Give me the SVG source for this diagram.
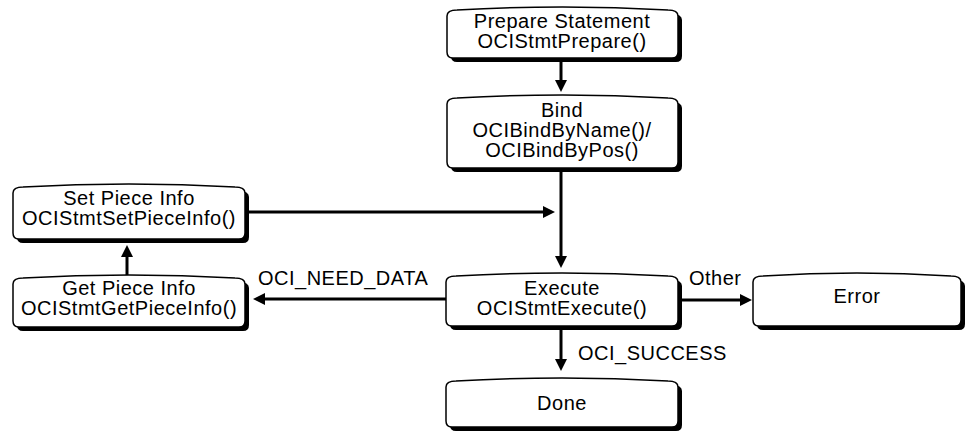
<svg xmlns="http://www.w3.org/2000/svg" width="967" height="433" viewBox="0 0 967 433">
<defs>
<style>
.shadow{fill:#000}
.box{fill:#fff;stroke:#000;stroke-width:1.5}
text{font-family:"Liberation Sans",Arial,sans-serif;font-size:20px;letter-spacing:0.5px;fill:#000}
.c{text-anchor:middle}
.conn{stroke:#000;stroke-width:3;fill:none}
</style>
<marker id="arr" viewBox="0 0 12 12" refX="4" refY="6" markerWidth="12" markerHeight="12" markerUnits="userSpaceOnUse" orient="auto">
<path d="M0,0 L12,6 L0,12 Z" fill="#000"/>
</marker>
</defs>
<rect width="967" height="433" fill="#fff"/>
<g id="connectors">
<line class="conn" x1="561" y1="62" x2="561" y2="84" marker-end="url(#arr)"/>
<line class="conn" x1="561" y1="172" x2="561" y2="260" marker-end="url(#arr)"/>
<line class="conn" x1="249" y1="212" x2="547" y2="212" marker-end="url(#arr)"/>
<line class="conn" x1="446" y1="299" x2="261" y2="299" marker-end="url(#arr)"/>
<line class="conn" x1="127" y1="278" x2="127" y2="253" marker-end="url(#arr)"/>
<line class="conn" x1="682" y1="300" x2="744" y2="300" marker-end="url(#arr)"/>
<line class="conn" x1="561" y1="330" x2="561" y2="363" marker-end="url(#arr)"/>
<text x="258" y="285">OCI_NEED_DATA</text>
<text x="689" y="285">Other</text>
<text x="578" y="360">OCI_SUCCESS</text>
</g>
<g id="prepare">
<path class="shadow" transform="translate(4,4)" d="M447,52 V16 Q447,10 457,10 Q562.5,4 668,10 Q678,10 678,16 V52 Q678,58 672,58 H453 Q447,58 447,52 Z"/>
<path class="box" d="M447,52 V16 Q447,10 457,10 Q562.5,4 668,10 Q678,10 678,16 V52 Q678,58 672,58 H453 Q447,58 447,52 Z"/>
<text class="c" x="562" y="28">Prepare Statement</text>
<text class="c" x="562" y="48">OCIStmtPrepare()</text>
</g>
<g id="bind">
<path class="shadow" transform="translate(4,4)" d="M447,162 V104 Q447,98 457,98 Q562.5,92 668,98 Q678,98 678,104 V162 Q678,168 672,168 H453 Q447,168 447,162 Z"/>
<path class="box" d="M447,162 V104 Q447,98 457,98 Q562.5,92 668,98 Q678,98 678,104 V162 Q678,168 672,168 H453 Q447,168 447,162 Z"/>
<text class="c" x="562" y="117">Bind</text>
<text class="c" x="562" y="137">OCIBindByName()/</text>
<text class="c" x="562" y="157">OCIBindByPos()</text>
</g>
<g id="setpiece">
<path class="shadow" transform="translate(4,4)" d="M13,233 V193 Q13,187 23,187 Q129,181 235,187 Q245,187 245,193 V233 Q245,239 239,239 H19 Q13,239 13,233 Z"/>
<path class="box" d="M13,233 V193 Q13,187 23,187 Q129,181 235,187 Q245,187 245,193 V233 Q245,239 239,239 H19 Q13,239 13,233 Z"/>
<text class="c" x="129" y="205">Set Piece Info</text>
<text class="c" x="129" y="225">OCIStmtSetPieceInfo()</text>
</g>
<g id="getpiece">
<path class="shadow" transform="translate(4,4)" d="M13,321 V284 Q13,278 23,278 Q129,272 235,278 Q245,278 245,284 V321 Q245,327 239,327 H19 Q13,327 13,321 Z"/>
<path class="box" d="M13,321 V284 Q13,278 23,278 Q129,272 235,278 Q245,278 245,284 V321 Q245,327 239,327 H19 Q13,327 13,321 Z"/>
<text class="c" x="129" y="295">Get Piece Info</text>
<text class="c" x="129" y="315">OCIStmtGetPieceInfo()</text>
</g>
<g id="execute">
<path class="shadow" transform="translate(4,4)" d="M446,320 V282 Q446,276 456,276 Q562,270 668,276 Q678,276 678,282 V320 Q678,326 672,326 H452 Q446,326 446,320 Z"/>
<path class="box" d="M446,320 V282 Q446,276 456,276 Q562,270 668,276 Q678,276 678,282 V320 Q678,326 672,326 H452 Q446,326 446,320 Z"/>
<text class="c" x="562" y="295">Execute</text>
<text class="c" x="562" y="315">OCIStmtExecute()</text>
</g>
<g id="error">
<path class="shadow" transform="translate(4,4)" d="M753,320 V282 Q753,276 763,276 Q857,270 951,276 Q961,276 961,282 V320 Q961,326 955,326 H759 Q753,326 753,320 Z"/>
<path class="box" d="M753,320 V282 Q753,276 763,276 Q857,270 951,276 Q961,276 961,282 V320 Q961,326 955,326 H759 Q753,326 753,320 Z"/>
<text class="c" x="857" y="303">Error</text>
</g>
<g id="done">
<path class="shadow" transform="translate(4,4)" d="M446,421 V387 Q446,381 456,381 Q562,375 668,381 Q678,381 678,387 V421 Q678,427 672,427 H452 Q446,427 446,421 Z"/>
<path class="box" d="M446,421 V387 Q446,381 456,381 Q562,375 668,381 Q678,381 678,387 V421 Q678,427 672,427 H452 Q446,427 446,421 Z"/>
<text class="c" x="562" y="410">Done</text>
</g>
</svg>
